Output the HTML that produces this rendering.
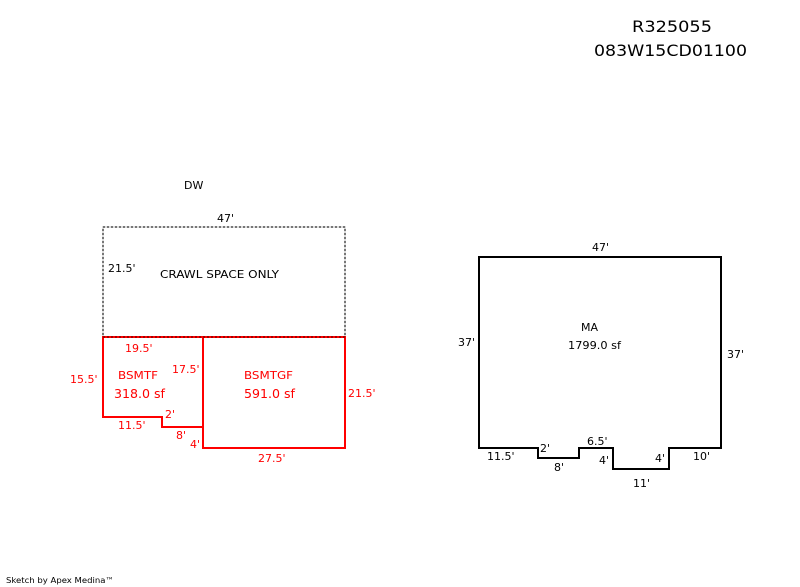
<!DOCTYPE html>
<html>
<head>
<meta charset="utf-8">
<style>
html,body{margin:0;padding:0;background:#fff}
svg{display:block}
text{font-family:"DejaVu Sans","Liberation Sans",sans-serif;font-size:11px;fill:#000}
.r text,text.r{fill:#f00}
.big{font-size:12px}
.t{font-size:16px}
</style>
</head>
<body>
<svg width="800" height="587" viewBox="0 0 800 587" xmlns="http://www.w3.org/2000/svg">
<rect width="800" height="587" fill="#fff"/>
<text class="t" x="632" y="32" textLength="80" lengthAdjust="spacingAndGlyphs">R325055</text>
<text class="t" x="594" y="56" textLength="153" lengthAdjust="spacingAndGlyphs">083W15CD01100</text>
<text x="184" y="189">DW</text>
<text x="217" y="222">47'</text>
<text x="108" y="272">21.5'</text>
<text x="160" y="278" textLength="119" lengthAdjust="spacingAndGlyphs">CRAWL SPACE ONLY</text>
<rect x="103" y="227" width="242" height="110" fill="none" stroke="#ddd" stroke-width="2"/>
<rect x="103" y="227" width="242" height="110" fill="none" stroke="#777" stroke-width="2" stroke-dasharray="2 2"/>
<g fill="none" stroke="#f00" stroke-width="2">
<path d="M103 337H203V427H162V417H103Z"/>
<path d="M203 337H345V448H203Z"/>
</g>
<path d="M103 337H345" fill="none" stroke="#a00000" stroke-width="2" stroke-dasharray="2 2"/>
<g class="r">
<text x="125" y="352">19.5'</text>
<text x="70" y="383">15.5'</text>
<text x="172" y="373">17.5'</text>
<text x="118" y="379" textLength="40" lengthAdjust="spacingAndGlyphs">BSMTF</text>
<text class="big" x="114" y="398" textLength="51" lengthAdjust="spacingAndGlyphs">318.0 sf</text>
<text x="244" y="379" textLength="49" lengthAdjust="spacingAndGlyphs">BSMTGF</text>
<text class="big" x="244" y="398" textLength="51" lengthAdjust="spacingAndGlyphs">591.0 sf</text>
<text x="348" y="397">21.5'</text>
<text x="165" y="418">2'</text>
<text x="118" y="429">11.5'</text>
<text x="176" y="439">8'</text>
<text x="190" y="448">4'</text>
<text x="258" y="462">27.5'</text>
</g>
<path d="M479 257H721V448H669V469H613V448H579V458H538V448H479Z" fill="none" stroke="#000" stroke-width="2"/>
<text x="592" y="251">47'</text>
<text x="458" y="346">37'</text>
<text x="727" y="358">37'</text>
<text x="581" y="331">MA</text>
<text x="568" y="349" textLength="53" lengthAdjust="spacingAndGlyphs">1799.0 sf</text>
<text x="540" y="452">2'</text>
<text x="587" y="445">6.5'</text>
<text x="487" y="460">11.5'</text>
<text x="599" y="464">4'</text>
<text x="655" y="462">4'</text>
<text x="693" y="460">10'</text>
<text x="554" y="471">8'</text>
<text x="633" y="487">11'</text>
<text x="6" y="583" style="font-size:8px" textLength="108" lengthAdjust="spacingAndGlyphs">Sketch by Apex Medina™</text>
</svg>
</body>
</html>
